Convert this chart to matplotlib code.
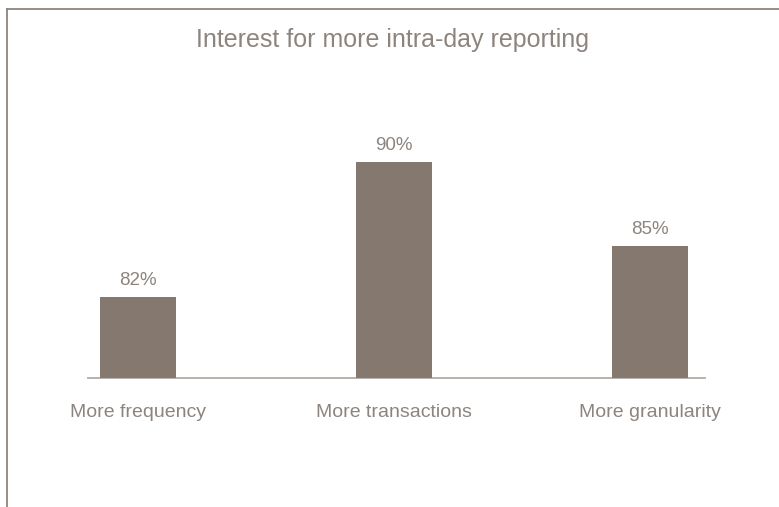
import matplotlib
matplotlib.use("Agg")
import matplotlib.pyplot as plt
import numpy as np

# Survey results
categories = ["More frequency", "More transactions", "More granularity"]
shares = [82, 90, 85]

C_BAR   = "#85786f"
C_TEXT  = "#8d847e"
C_AXIS  = "#b3aaa4"
C_FRAME = "#8f847d"

plt.rcParams["font.family"] = ["Liberation Sans", "DejaVu Sans"]

fig = plt.figure(figsize=(7.79, 5.07), dpi=100)
ax = fig.add_axes([88 / 779, 1 - 378 / 507, (705 - 88) / 779, 278 / 507])

x = np.arange(len(categories))
bars = ax.bar(x, shares, width=0.297, color=C_BAR, zorder=3)
for bar, v in zip(bars, shares):
    ax.annotate(f"{v}%", xy=(bar.get_x() + bar.get_width() / 2, bar.get_height()),
                xytext=(0, 6), textcoords="offset points",
                ha="center", va="bottom", fontsize=13.5, color=C_TEXT)

ax.set_xlim(-0.195, 2.215)
ax.set_ylim(77.2, 93.67)
ax.set_xticks(x)
ax.set_xticklabels(categories, fontsize=14, color=C_TEXT)
ax.tick_params(axis="x", length=0, pad=19)
ax.set_yticks([])
for side in ["top", "right", "left"]:
    ax.spines[side].set_visible(False)
ax.spines["bottom"].set_color(C_AXIS)
ax.spines["bottom"].set_linewidth(1.3)

fig.text(393 / 779, 1 - 40 / 507, "Interest for more intra-day reporting",
         ha="center", va="center", fontsize=18, color=C_TEXT)

# open frame: top and left edges only
fig.add_artist(plt.Line2D([7 / 779, 1], [1 - 9 / 507, 1 - 9 / 507],
                          transform=fig.transFigure, color=C_FRAME, lw=1.3))
fig.add_artist(plt.Line2D([7 / 779, 7 / 779], [0, 1 - 9 / 507],
                          transform=fig.transFigure, color=C_FRAME, lw=1.3))

fig.savefig("out.png", dpi=100)
plt.close(fig)
